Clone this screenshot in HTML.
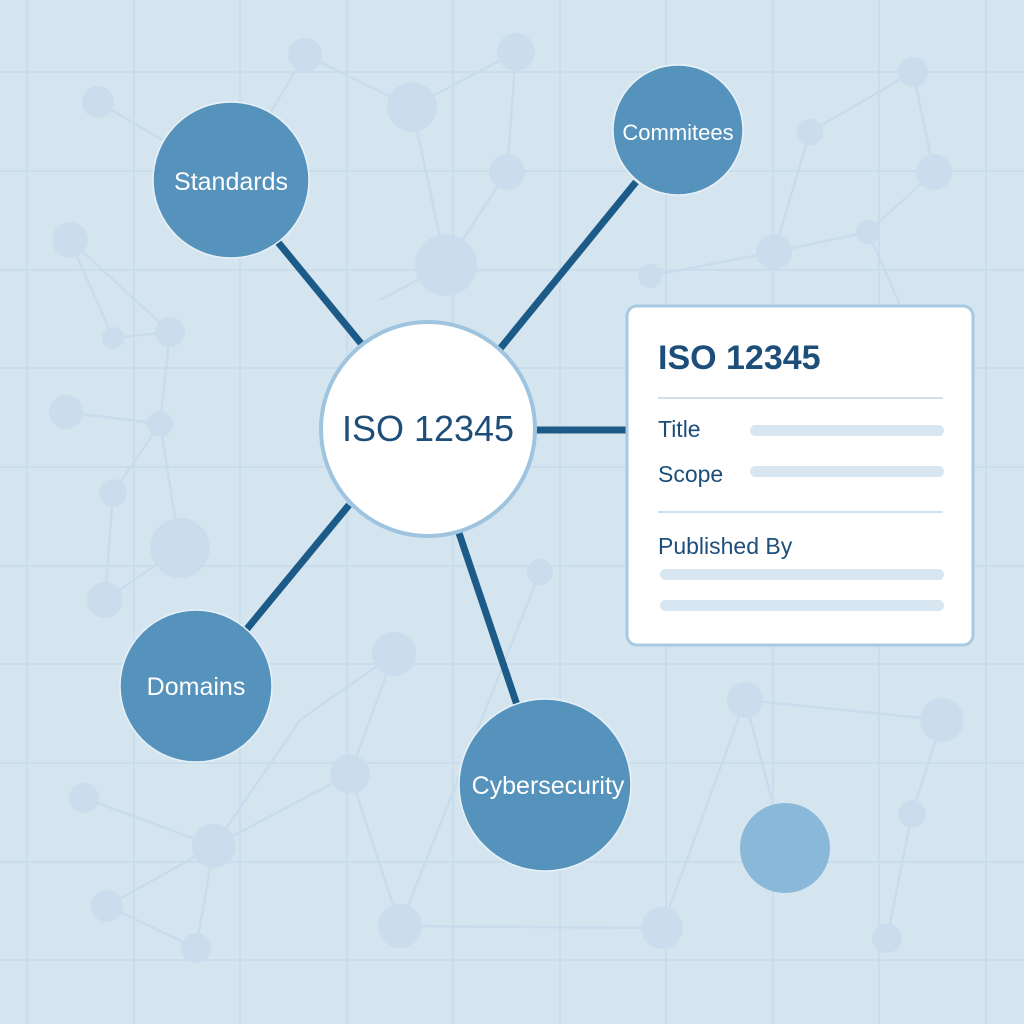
<!DOCTYPE html>
<html><head><meta charset="utf-8"><style>
html,body{margin:0;padding:0;}
body{width:1024px;height:1024px;overflow:hidden;background:#d5e5f0;}
svg{display:block;}
text{font-family:"Liberation Sans",sans-serif;}
</style></head><body>
<svg width="1024" height="1024" viewBox="0 0 1024 1024">
<rect width="1024" height="1024" fill="#d5e5f0"/>
<g stroke="#c9dded" stroke-width="2">
<line x1="27" y1="0" x2="27" y2="1024"/><line x1="134" y1="0" x2="134" y2="1024"/><line x1="240" y1="0" x2="240" y2="1024"/><line x1="347" y1="0" x2="347" y2="1024"/><line x1="453" y1="0" x2="453" y2="1024"/><line x1="560" y1="0" x2="560" y2="1024"/><line x1="666" y1="0" x2="666" y2="1024"/><line x1="773" y1="0" x2="773" y2="1024"/><line x1="879" y1="0" x2="879" y2="1024"/><line x1="986" y1="0" x2="986" y2="1024"/>
<line x1="0" y1="72" x2="1024" y2="72"/><line x1="0" y1="171" x2="1024" y2="171"/><line x1="0" y1="270" x2="1024" y2="270"/><line x1="0" y1="368" x2="1024" y2="368"/><line x1="0" y1="467" x2="1024" y2="467"/><line x1="0" y1="566" x2="1024" y2="566"/><line x1="0" y1="664" x2="1024" y2="664"/><line x1="0" y1="763" x2="1024" y2="763"/><line x1="0" y1="862" x2="1024" y2="862"/><line x1="0" y1="960" x2="1024" y2="960"/>
</g>
<g stroke="#c8dcec" stroke-width="2.5" fill="none">
<polyline points="98,102 230,180 305,55 412,107 516,52"/>
<polyline points="70,240 170,332 113,338 70,240"/>
<polyline points="170,332 160,424 66,412"/>
<polyline points="160,424 113,493 105,600 180,548 160,424"/>
<polyline points="412,107 446,265 507,172 516,52"/>
<polyline points="446,265 380,300"/>
<polyline points="650,276 774,252 868,232 934,172 913,72 810,132 774,252"/>
<polyline points="868,232 900,305"/>
<polyline points="394,654 350,774 214,846 84,798"/>
<polyline points="214,846 196,948 107,906 214,846"/>
<polyline points="350,774 400,926 540,572"/>
<polyline points="400,926 662,928 745,700 942,720 912,814 887,938"/>
<polyline points="745,700 785,848"/>
<polyline points="394,654 300,720 214,846"/>
</g>
<g fill="#c9ddec">
<circle cx="98" cy="102" r="16"/><circle cx="305" cy="55" r="17"/><circle cx="412" cy="107" r="25"/><circle cx="516" cy="52" r="19"/>
<circle cx="70" cy="240" r="18"/><circle cx="170" cy="332" r="15"/><circle cx="113" cy="338" r="11"/><circle cx="160" cy="424" r="13"/><circle cx="66" cy="412" r="17"/>
<circle cx="113" cy="493" r="14"/><circle cx="180" cy="548" r="30"/><circle cx="105" cy="600" r="18"/>
<circle cx="446" cy="265" r="31"/><circle cx="507" cy="172" r="18"/><circle cx="650" cy="276" r="12"/><circle cx="774" cy="252" r="18"/><circle cx="868" cy="232" r="12"/><circle cx="934" cy="172" r="18"/><circle cx="913" cy="72" r="15"/><circle cx="810" cy="132" r="13"/>
<circle cx="394" cy="654" r="22"/><circle cx="350" cy="774" r="20"/><circle cx="214" cy="846" r="22"/><circle cx="84" cy="798" r="15"/><circle cx="196" cy="948" r="15"/><circle cx="107" cy="906" r="16"/><circle cx="400" cy="926" r="22"/><circle cx="540" cy="572" r="13"/><circle cx="662" cy="928" r="21"/><circle cx="745" cy="700" r="18"/><circle cx="942" cy="720" r="22"/><circle cx="912" cy="814" r="14"/><circle cx="887" cy="938" r="15"/>
</g>
<circle cx="785" cy="848" r="45" fill="#8ab8d8"/>
<g stroke="#1c5a88" stroke-width="7" stroke-linecap="butt">
<line x1="277" y1="241" x2="364" y2="347"/>
<line x1="636" y1="182" x2="499" y2="350"/>
<line x1="536" y1="430" x2="628" y2="430"/>
<line x1="349" y1="505" x2="246" y2="630"/>
<line x1="459" y1="533" x2="517" y2="705"/>
</g>
<g fill="#5592bc" stroke="#e8f1f7" stroke-width="1.5">
<circle cx="231" cy="180" r="78"/>
<circle cx="678" cy="130" r="65"/>
<circle cx="196" cy="686" r="76"/>
<circle cx="545" cy="785" r="86"/>
</g>
<circle cx="428" cy="429" r="107" fill="#fff" stroke="#9fc4df" stroke-width="4"/>
<g fill="#fff" font-size="25" text-anchor="middle">
<text x="231" y="190">Standards</text>
<text x="678" y="140" font-size="22">Commitees</text>
<text x="196" y="695">Domains</text>
<text x="548" y="794">Cybersecurity</text>
</g>
<text x="428" y="441" text-anchor="middle" font-size="36" fill="#1d4e79">ISO 12345</text>
<rect x="627" y="306" width="346" height="339" rx="10" fill="#fff" stroke="#a7c9e2" stroke-width="3"/>
<text x="658" y="369" font-size="34" fill="#1d4e79" font-weight="bold">ISO 12345</text>
<line x1="658" y1="398" x2="943" y2="398" stroke="#d0e0ec" stroke-width="2"/>
<text x="658" y="437" font-size="23" fill="#1d4e79">Title</text>
<text x="658" y="482" font-size="23" fill="#1d4e79">Scope</text>
<rect x="750" y="425" width="194" height="11" rx="5.5" fill="#d7e6f1"/>
<rect x="750" y="466" width="194" height="11" rx="5.5" fill="#d7e6f1"/>
<line x1="658" y1="512" x2="943" y2="512" stroke="#d0e0ec" stroke-width="2"/>
<text x="658" y="554" font-size="23" fill="#1d4e79">Published By</text>
<rect x="660" y="569" width="284" height="11" rx="5.5" fill="#d7e6f1"/>
<rect x="660" y="600" width="284" height="11" rx="5.5" fill="#d7e6f1"/>
</svg>
</body></html>
